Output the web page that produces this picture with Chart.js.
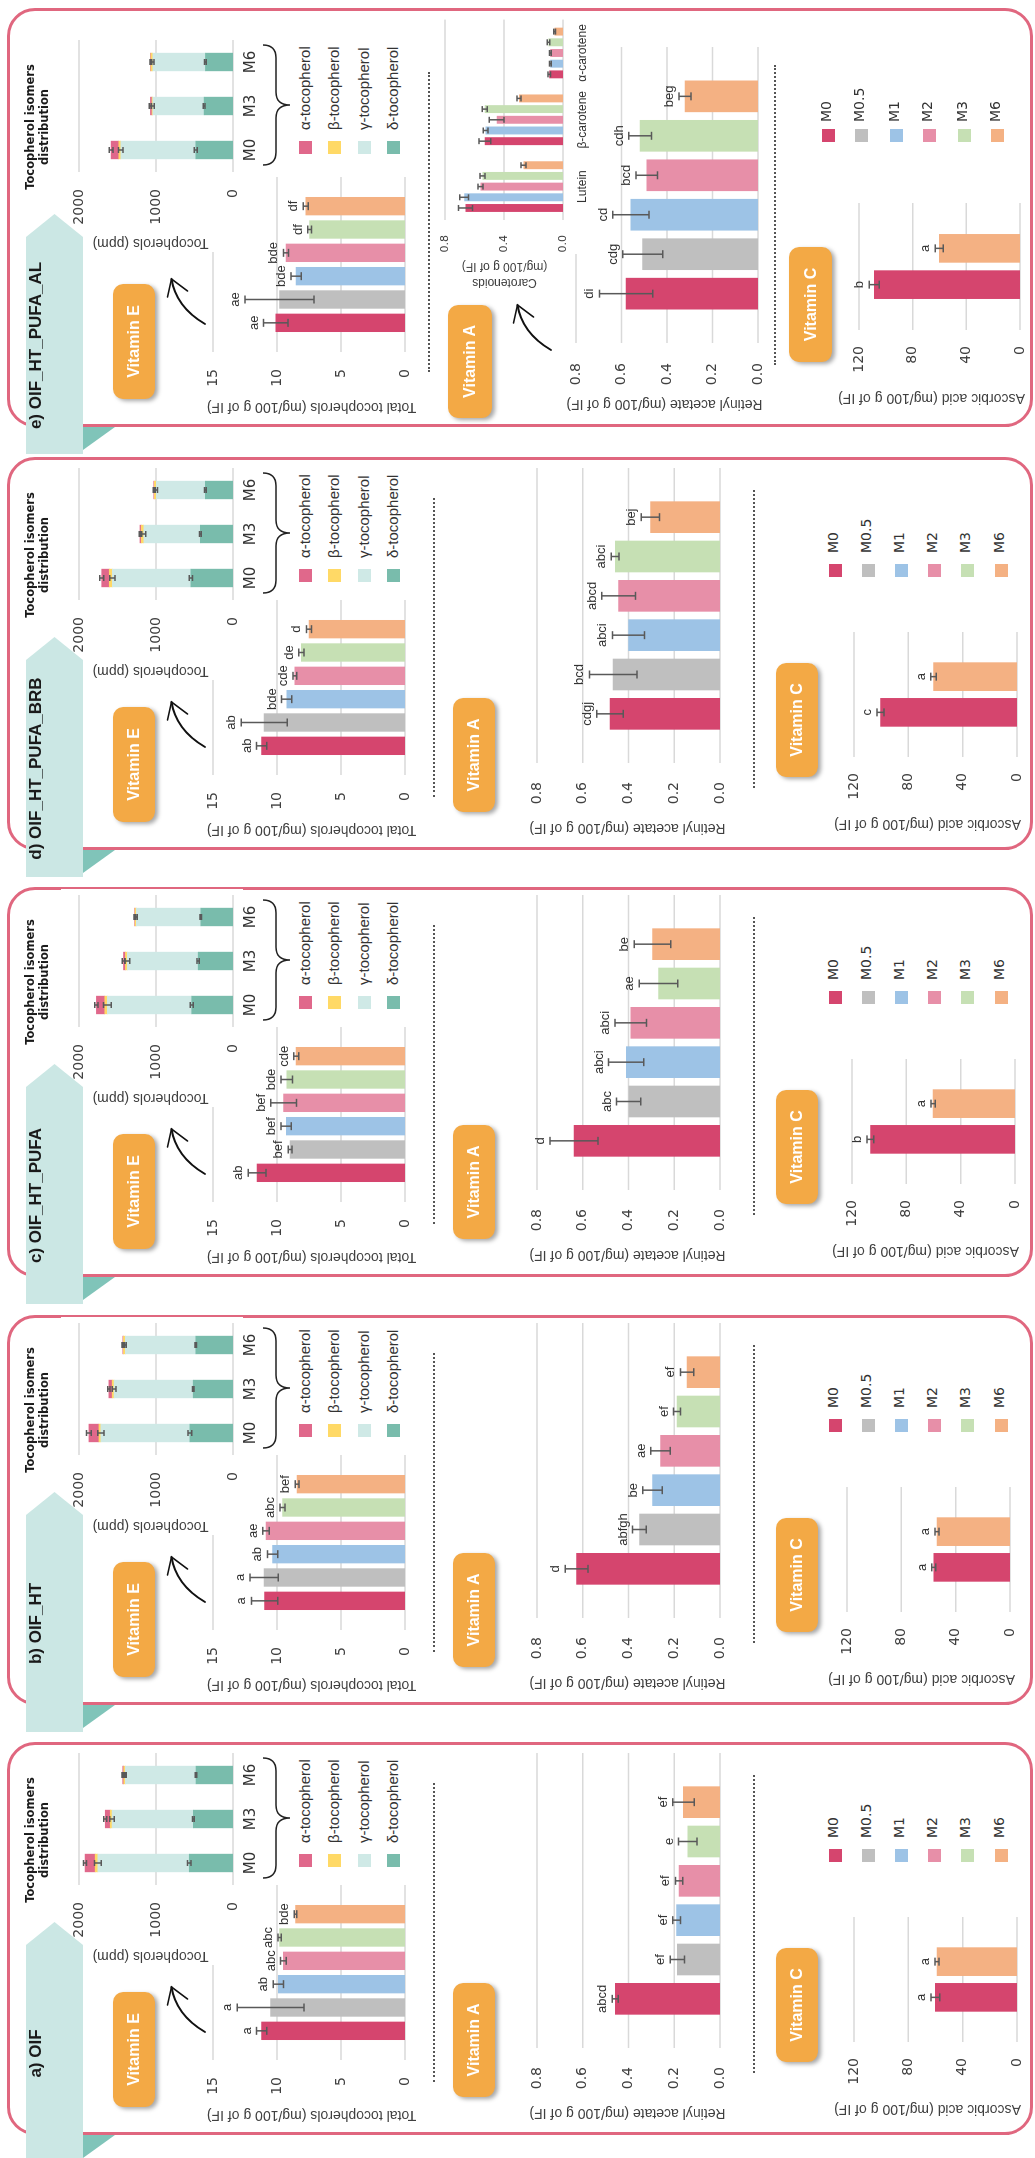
<!DOCTYPE html>
<html>
<head>
<meta charset="utf-8">
<title>Vitamins E, A and C in infant formula</title>
<script src="https://cdn.jsdelivr.net/npm/chart.js@4.4.1/dist/chart.umd.min.js"></script>
<style>
  html, body { margin: 0; padding: 0; background: #fff; }
  body { width: 1035px; height: 2158px; overflow: hidden; position: relative; }
  /* the figure is laid out landscape, then turned a quarter turn */
  #fig { position: absolute; left: 0; top: 0; width: 2158px; height: 1035px; background: #fff;
         transform-origin: 0 0; transform: translateY(2158px) rotate(-90deg);
         font-family: "Liberation Sans", Arial, sans-serif; color: #333; overflow: hidden; }
  #fig > * { position: absolute; }
</style>
</head>
<body>
<div id="fig"></div>
<script>
// ---- data (one row per panel a..e) ----
const categories = ["M0", "M0.5", "M1", "M2", "M3", "M6"];
const vitCCategories = ["M0", "M6"];
const isomerCategories = ["M0", "M3", "M6"];
const isomerNames = ["α-tocopherol", "β-tocopherol", "γ-tocopherol", "δ-tocopherol"];
const caroCategories = ["Lutein", "β-carotene", "α-carotene"];
const caroSeries = ["M0", "M1", "M2", "M3", "M6"];
const panelTitles = ["a) OIF", "b) OIF_HT", "c) OIF_HT_PUFA", "d) OIF_HT_PUFA_BRB", "e) OIF_HT_PUFA_AL"];

// Vitamin E - total tocopherols (mg/100 g of IF)
const vitE = [
  [11.2, 10.5, 9.9, 9.5, 9.8, 8.55],
  [10.97, 11.0, 10.35, 10.86, 9.57, 8.43],
  [11.55, 8.97, 9.28, 9.48, 9.23, 8.5],
  [11.2, 11.0, 9.24, 8.6, 8.1, 7.5],
  [10.1, 9.8, 8.5, 9.3, 7.45, 7.75]
];
const vitEErr = [
  [0.4, 2.6, 0.4, 0.22, 0.13, 0.1],
  [1.03, 1.1, 0.4, 0.26, 0.2, 0.15],
  [0.7, 0.15, 0.4, 1.0, 0.45, 0.2],
  [0.4, 1.8, 0.4, 0.15, 0.2, 0.2],
  [0.95, 2.7, 0.4, 0.2, 0.15, 0.2]
];
const vitELetters = [
  ["a", "a", "ab", "abc", "abc", "bde"],
  ["a", "a", "ab", "ae", "abc", "bef"],
  ["ab", "bef", "bef", "bef", "bde", "cde"],
  ["ab", "ab", "bde", "cde", "de", "d"],
  ["ae", "ae", "bde", "bde", "df", "df"]
];

// tocopherol isomers (ppm), columns M0, M3, M6
const isoDelta = [[568, 515, 480], [560, 517, 483], [536, 452, 418], [547, 424, 359], [483, 375, 358]];
const isoGamma = [[1187, 1057, 917], [1155, 1026, 914], [1096, 920, 837], [1020, 735, 637], [975, 667, 683]];
const isoBeta = [[35, 22, 22], [26, 26, 26], [33, 25, 17], [40, 33, 25], [25, 10, 25]];
const isoAlpha = [[131, 65, 13], [130, 43, 8], [109, 25, 5], [98, 16, 8], [100, 20, 5]];
const isoDeltaErr = [[22, 12, 10], [25, 10, 10], [20, 15, 10], [20, 12, 12], [20, 12, 12]];
const isoGammaErr = [[45, 30, 10], [40, 25, 12], [50, 30, 12], [35, 25, 15], [30, 20, 15]];
const isoAlphaErr = [[20, 20, 10], [30, 15, 10], [20, 15, 10], [25, 10, 8], [25, 15, 8]];

// Vitamin A - retinyl acetate (mg/100 g of IF)
const vitA = [
  [0.458, 0.186, 0.19, 0.179, 0.141, 0.16],
  [0.627, 0.352, 0.295, 0.26, 0.188, 0.144],
  [0.638, 0.399, 0.41, 0.39, 0.269, 0.295],
  [0.481, 0.467, 0.40, 0.443, 0.458, 0.304],
  [0.58, 0.507, 0.559, 0.489, 0.518, 0.321]
];
const vitAErr = [
  [0.013, 0.031, 0.017, 0.016, 0.04, 0.047],
  [0.05, 0.03, 0.043, 0.043, 0.015, 0.029],
  [0.105, 0.053, 0.077, 0.069, 0.084, 0.08],
  [0.058, 0.104, 0.07, 0.074, 0.017, 0.04],
  [0.117, 0.088, 0.08, 0.047, 0.05, 0.026]
];
const vitALetters = [
  ["abcd", "ef", "ef", "ef", "e", "ef"],
  ["d", "abfgh", "be", "ae", "ef", "ef"],
  ["d", "abc", "abci", "abci", "ae", "be"],
  ["cdgj", "bcd", "abci", "abcd", "abci", "bej"],
  ["di", "cdg", "cd", "bcd", "cdh", "beg"]
];

// carotenoids, panel e only (rows M0, M1, M2, M3, M6)
const caroValues = [
  [0.661, 0.53, 0.093],
  [0.67, 0.525, 0.086],
  [0.559, 0.45, 0.086],
  [0.545, 0.53, 0.098],
  [0.268, 0.298, 0.057]
];
const caroErr = [
  [0.047, 0.04, 0.008],
  [0.03, 0.016, 0.006],
  [0.017, 0.05, 0.006],
  [0.017, 0.017, 0.008],
  [0.017, 0.014, 0.006]
];

// Vitamin C - ascorbic acid (mg/100 g of IF), M0 and M6
const vitC = [[60.1, 58.9], [56.1, 53.7], [106.4, 60.3], [100.5, 61.5], [108.6, 60.2]];
const vitCErr = [[3.3, 1.5], [1.5, 1.5], [2.5, 1.5], [2.5, 2], [3.7, 3]];
const vitCLetters = [["a", "a"], ["a", "a"], ["b", "a"], ["c", "a"], ["b", "a"]];

// ---- styles & layout ----
const mColors = ["#d5456e", "#bfbfbf", "#9dc3e6", "#e78fa8", "#c6e0b4", "#f4b183"];
const isoColors = ["#e0688b", "#ffd966", "#cfe9e6", "#79bcac"]; // alpha, beta, gamma, delta
const caroColors = [mColors[0], mColors[2], mColors[3], mColors[4], mColors[5]];
const vitCColors = [mColors[0], mColors[5]];

const panelLeft = [23, 453, 881, 1308, 1731];
const panelWidth = [393, 390, 390, 393, 419];

const baseLayout = {
  eBox: [28, 113, 115, 42], eArrow: [103, 205],
  eArea: { l: 75, r: 250, t: 213, b: 405 }, eTitle: [18.5, 311],
  isoArea: { l: 250, r: 382, t: 79, b: 233 }, isoTitle: [177.5, 150], isoHead: [295, 23],
  brace: [257, 377, 263], isoLeg: [268, 292, [305, 334, 364, 393]], isoShift: 0,
  dot1: [53, 352, 434],
  aBox: [38, 453, 114, 42], aArrow: null,
  aArea: { l: 87, r: 382, t: 537, b: 720 }, aTickPad: 19, aTitle: [21, 627.5],
  dot2: [62, 360, 754],
  cBox: [73, 776, 114, 42],
  cArea: { l: 93, r: 218, t: 854, b: 1017 }, cTitle: [25, 927.5],
  leg: [273, 297, [835, 868, 901, 934, 967, 1001]]
};
const layouts = [
  baseLayout,
  Object.assign({}, baseLayout, { cArea: { l: 93, r: 218, t: 847, b: 1010 }, cTitle: [25, 921] }),
  Object.assign({}, baseLayout, { cArea: { l: 93, r: 218, t: 852, b: 1015 }, cTitle: [25, 925.5] }),
  baseLayout,
  Object.assign({}, baseLayout, {
    isoShift: 5,
    dot1: [55, 355, 428.5],
    aBox: [9, 448, 113, 44], aArrow: [77, 551],
    aArea: { l: 84, r: 380, t: 576, b: 758 }, aTickPad: 20, aTitle: [22, 664],
    caroArea: { l: 207, r: 414, t: 445, b: 563 }, caroTitle: [152, 504],
    dot2: [62, 362, 775],
    cBox: [65, 789, 115, 43],
    cArea: { l: 97, r: 224, t: 859, b: 1020 }, cTitle: [28, 931],
    leg: [285, 305, [828, 861, 896, 929, 964, 997]]
  })
];

const fig = document.getElementById("fig");
const SVGNS = "http://www.w3.org/2000/svg";

function el(css, html) {
  const e = document.createElement("div");
  e.style.cssText = "position:absolute;" + css;
  if (html != null) e.innerHTML = html;
  fig.appendChild(e);
  return e;
}

function svgEl(tag, attrs, parent) {
  const e = document.createElementNS(SVGNS, tag);
  for (const k in attrs) e.setAttribute(k, attrs[k]);
  parent.appendChild(e);
  return e;
}

// rotated axis title as plain text
function vTitle(cx, cy, html, size, lh, lines) {
  const W = 340, H = lh * (lines || 1);
  el(`left:${cx - W / 2}px;top:${cy - H / 2}px;width:${W}px;height:${H}px;line-height:${lh}px;` +
     `text-align:center;white-space:nowrap;transform:rotate(-90deg);font-size:${size}px;color:#404040;z-index:7`, html);
}

// value gridlines, optionally running past the bar area like in the figure
const gridPlugin = {
  id: "extGrid",
  beforeDatasetsDraw(chart, args, opts) {
    const ext = opts.ext || 0, ys = chart.scales.y, a = chart.chartArea, ctx = chart.ctx;
    ctx.save();
    ctx.strokeStyle = "#d9d9d9";
    ctx.lineWidth = 1.5;
    ctx.beginPath();
    ys.ticks.forEach(t => {
      const y = ys.getPixelForValue(t.value);
      ctx.moveTo(a.left - ext, y);
      ctx.lineTo(a.right + ext, y);
    });
    ctx.stroke();
    ctx.restore();
  }
};

// error bars + significance letters on top of each bar
const errPlugin = {
  id: "errBars",
  afterDatasetsDraw(chart) {
    const ctx = chart.ctx, ys = chart.scales.y;
    ctx.save();
    chart.data.datasets.forEach((ds, d) => {
      if (!ds.errs) return;
      const meta = chart.getDatasetMeta(d);
      meta.data.forEach((bar, i) => {
        const e = ds.errs[i] || 0;
        const dp = Math.abs(ys.getPixelForValue(0) - ys.getPixelForValue(e));
        const top = bar.y - dp;
        if (e > 0) {
          const c = ds.cap || 4;
          ctx.strokeStyle = "#595959";
          ctx.lineWidth = 1.5;
          ctx.beginPath();
          ctx.moveTo(bar.x, top); ctx.lineTo(bar.x, bar.y + dp);
          ctx.moveTo(bar.x - c, top); ctx.lineTo(bar.x + c, top);
          ctx.moveTo(bar.x - c, bar.y + dp); ctx.lineTo(bar.x + c, bar.y + dp);
          ctx.stroke();
        }
        if (ds.letters && ds.letters[i]) {
          ctx.fillStyle = "#333";
          ctx.font = "13px 'Liberation Sans'";
          ctx.textAlign = "center";
          ctx.textBaseline = "alphabetic";
          ctx.fillText(ds.letters[i], bar.x, top - 6);
        }
      });
    });
    ctx.restore();
  }
};

// white backdrop for the inset charts
const bgPlugin = {
  id: "whiteBg",
  beforeDraw(chart, args, opts) {
    const from = opts.from || 0, top = opts.top || 0, bottom = opts.bottom || 0;
    const ctx = chart.ctx;
    ctx.save();
    ctx.fillStyle = "#fff";
    ctx.fillRect(from, top, chart.width - from, chart.height - top - bottom);
    ctx.restore();
  }
};

function makeChart(x, y, w, h, z, config) {
  const cv = document.createElement("canvas");
  cv.width = Math.round(w); cv.height = Math.round(h);
  cv.style.cssText = `position:absolute;left:${x}px;top:${y}px;width:${Math.round(w)}px;height:${Math.round(h)}px;z-index:${z}`;
  fig.appendChild(cv);
  config.options = Object.assign({ responsive: false, animation: false, devicePixelRatio: 1, events: [] }, config.options);
  return new Chart(cv, config);
}

function valueAxis(o) {
  return {
    min: o.min, max: o.max, stacked: !!o.stacked,
    ticks: { stepSize: o.step, padding: o.pad, color: "#404040",
             font: { family: "DejaVu Sans", size: o.size || 14 },
             callback: v => Number(v).toFixed(o.dec || 0) },
    grid: { display: false, drawTicks: false },
    border: { display: false },
    afterFit(s) { s.width = o.w; }
  };
}

// vitamin bar chart; gridlines run 0.75 slot past the bars on both sides.
// Chart.js adds the tick padding to the axis' top/bottom padding, so the
// canvas padding is made large enough that it never squeezes the plot.
function vitBars(P, A, labels, means, errs, letters, colors, barW, yOpt) {
  const n = labels.length;
  const pitch = (A.r - A.l) / (n + 1.5);
  const ext = 0.75 * pitch;
  const tickPad = yOpt.pad + ext;
  const padV = Math.ceil(tickPad + 12), padR = ext + 2;
  const axisW = yOpt.w + ext;
  makeChart(P + A.l - yOpt.w, A.t - padV, axisW + n * pitch + padR, padV + A.b - A.t + padV, 2, {
    type: "bar",
    data: {
      labels,
      datasets: [{ data: means, backgroundColor: colors, barThickness: barW, errs, letters }]
    },
    options: {
      layout: { padding: { top: padV, bottom: padV, right: padR, left: 0 } },
      plugins: { legend: { display: false }, tooltip: { enabled: false }, extGrid: { ext } },
      scales: {
        x: { type: "category", offset: true, display: false },
        y: valueAxis(Object.assign({}, yOpt, { w: axisW, pad: tickPad }))
      }
    },
    plugins: [gridPlugin, errPlugin]
  });
}

function isoChart(P, A, p) {
  const axisW = 80, padT = 28, xH = 29, padR = 6;
  const series = [
    { data: isoDelta[p], errs: isoDeltaErr[p], backgroundColor: isoColors[3] },
    { data: isoGamma[p], errs: isoGammaErr[p], backgroundColor: isoColors[2] },
    { data: isoBeta[p], backgroundColor: isoColors[1] },
    { data: isoAlpha[p], errs: isoAlphaErr[p], backgroundColor: isoColors[0] }
  ];
  series.forEach(s => { s.barThickness = 17.7; s.cap = 3; });
  makeChart(P + A.l - axisW, A.t - padT, axisW + A.r - A.l + padR, padT + A.b - A.t + xH, 3, {
    type: "bar",
    data: { labels: isomerCategories, datasets: series },
    options: {
      layout: { padding: { top: padT, bottom: 0, right: padR, left: 0 } },
      plugins: { legend: { display: false }, tooltip: { enabled: false }, whiteBg: { from: 0, top: 10, bottom: 19 } },
      scales: {
        x: { stacked: true, grid: { display: false, drawTicks: false }, border: { display: false },
             ticks: { padding: 9, color: "#333", font: { family: "DejaVu Sans", size: 15 } },
             afterFit(s) { s.height = xH; } },
        y: valueAxis({ min: 0, max: 2000, step: 1000, pad: 17, w: axisW, stacked: true })
      }
    },
    plugins: [bgPlugin, gridPlugin, errPlugin]
  });
}

function caroChart(P, A) {
  const axisW = 72, padT = 24, xH = 30, padR = 1;
  makeChart(P + A.l - axisW, A.t - padT, axisW + A.r - A.l + padR, padT + A.b - A.t + xH, 3, {
    type: "bar",
    data: {
      labels: caroCategories,
      datasets: caroSeries.map((s, k) => ({ label: s, data: caroValues[k], errs: caroErr[k],
                                           backgroundColor: caroColors[k], cap: 3,
                                           categoryPercentage: 0.8, barPercentage: 0.74 }))
    },
    options: {
      layout: { padding: { top: padT, bottom: 0, right: padR, left: 0 } },
      plugins: { legend: { display: false }, tooltip: { enabled: false }, whiteBg: { from: 38, top: 10 } },
      scales: {
        x: { grid: { display: false, drawTicks: false }, border: { display: false },
             ticks: { padding: 12, color: "#333", font: { family: "Liberation Sans", size: 12 } },
             afterFit(s) { s.height = xH; } },
        y: valueAxis({ min: 0, max: 0.8, step: 0.4, dec: 1, pad: 15, w: axisW, size: 11 })
      }
    },
    plugins: [bgPlugin, gridPlugin, errPlugin]
  });
}

function vitBox(P, b, text) {
  el(`left:${P + b[0]}px;top:${b[1]}px;width:${b[2]}px;height:${b[3]}px;background:#f3a945;border-radius:10px;` +
     `box-shadow:-2px 3px 4px rgba(0,0,0,0.35);color:#fff;font:bold 16px 'Liberation Sans';` +
     `display:flex;align-items:center;justify-content:center;z-index:6`, text);
}

function swoosh(svg, x0, y0) {
  const tx = x0 + 45, ty = y0 - 33.5;
  svgEl("path", { d: `M${x0},${y0} Q${x0 + 17},${y0 - 29} ${tx},${ty}`, fill: "none", stroke: "#111",
                  "stroke-width": 1.8, "stroke-linecap": "round" }, svg);
  svgEl("path", { d: `M${tx - 18},${ty - 4} L${tx},${ty} L${tx - 12},${ty + 16}`, fill: "none", stroke: "#111",
                  "stroke-width": 1.6, "stroke-linecap": "round" }, svg);
}

function dotted(P, d) {
  el(`left:${P + d[0]}px;top:${d[2] - 1}px;width:${d[1] - d[0]}px;height:0;border-top:2px dotted #555;z-index:4`);
}

function buildPanel(p) {
  const P = panelLeft[p], W = panelWidth[p], L = layouts[p], s = L.isoShift;

  // frame, title tab and its fold
  el(`left:${P}px;top:7px;width:${W}px;height:1026px;border:3.5px solid #e0677f;border-radius:28px;box-sizing:border-box;z-index:0`);
  const tab = el(`left:${P - 27}px;top:26px;width:240px;height:57px;background:#cbe7e4;` +
                 `clip-path:polygon(0 0,217px 0,240px 28.5px,217px 57px,0 57px);z-index:8`);
  const tt = document.createElement("div");
  tt.style.cssText = "position:absolute;left:0;top:0;width:217px;height:57px;line-height:57px;text-align:center;" +
                     "font:bold 17px 'Liberation Sans';color:#1a1a1a;white-space:nowrap";
  tt.textContent = panelTitles[p];
  tab.appendChild(tt);
  el(`left:${P - 23}px;top:83px;width:23px;height:32px;background:#80c4b9;clip-path:polygon(0 0,23px 0,23px 32px);z-index:8`);

  const svg = document.createElementNS(SVGNS, "svg");
  svg.setAttribute("width", W); svg.setAttribute("height", 1035);
  svg.style.cssText = `position:absolute;left:${P}px;top:0;overflow:visible;z-index:6`;
  fig.appendChild(svg);

  // Vitamin E
  vitBox(P, L.eBox, "Vitamin E");
  swoosh(svg, L.eArrow[0], L.eArrow[1]);
  vitBars(P, L.eArea, categories, vitE[p], vitEErr[p], vitELetters[p], mColors, 17.7,
          { min: 0, max: 15, step: 5, pad: 17, w: 70 });
  vTitle(P + L.eTitle[0], L.eTitle[1], "Total tocopherols (mg/100 g of IF)", 14, 17);

  // tocopherol isomers inset
  const IA = { l: L.isoArea.l + s, r: L.isoArea.r + s, t: L.isoArea.t, b: L.isoArea.b };
  isoChart(P, IA, p);
  vTitle(P + L.isoTitle[0] + s, L.isoTitle[1], "Tocopherols (ppm)", 14, 17);
  el(`left:${P + L.isoHead[0] + s - 100}px;top:${L.isoHead[1]}px;width:200px;text-align:center;line-height:19px;` +
     `font:bold 11.5px 'DejaVu Sans';color:#1a1a1a;z-index:7`, "Tocopherol isomers<br>distribution");
  const b = L.brace, x1 = b[0] + s, x2 = b[1] + s, xm = (x1 + x2) / 2, y0 = b[2];
  svgEl("path", { d: `M${x1},${y0} Q${x1},${y0 + 13} ${x1 + 13},${y0 + 13} L${xm - 13},${y0 + 13} ` +
                     `Q${xm},${y0 + 13} ${xm},${y0 + 27} Q${xm},${y0 + 13} ${xm + 13},${y0 + 13} ` +
                     `L${x2 - 13},${y0 + 13} Q${x2},${y0 + 13} ${x2},${y0}`,
                  fill: "none", stroke: "#222", "stroke-width": 1.5 }, svg);
  isomerNames.forEach((n, k) => {
    const yc = L.isoLeg[2][k];
    el(`left:${P + L.isoLeg[0] + s}px;top:${yc - 6.5}px;width:13px;height:13px;background:${isoColors[k]};z-index:5`);
    el(`left:${P + L.isoLeg[1] + s}px;top:${yc - 10}px;height:20px;line-height:20px;white-space:nowrap;` +
       `font-size:15px;color:#333;z-index:5`, n);
  });

  dotted(P, L.dot1);

  // Vitamin A
  vitBox(P, L.aBox, "Vitamin A");
  if (L.aArrow) swoosh(svg, L.aArrow[0], L.aArrow[1]);
  vitBars(P, L.aArea, categories, vitA[p], vitAErr[p], vitALetters[p], mColors, 31,
          { min: 0, max: 0.8, step: 0.2, dec: 1, pad: L.aTickPad, w: 79 });
  vTitle(P + L.aTitle[0], L.aTitle[1], "Retinyl acetate (mg/100 g of IF)", 14, 17);
  if (L.caroArea) {
    caroChart(P, L.caroArea);
    vTitle(P + L.caroTitle[0], L.caroTitle[1], "Carotenoids<br>(mg/100 g of IF)", 12, 15.5, 2);
  }

  dotted(P, L.dot2);

  // Vitamin C
  vitBox(P, L.cBox, "Vitamin C");
  vitBars(P, L.cArea, vitCCategories, vitC[p], vitCErr[p], vitCLetters[p], vitCColors, 28,
          { min: 0, max: 120, step: 40, pad: 16, w: 83 });
  vTitle(P + L.cTitle[0], L.cTitle[1], "Ascorbic acid (mg/100 g of IF)", 14, 17);
  categories.forEach((c, k) => {
    const yc = L.leg[2][k];
    el(`left:${P + L.leg[0]}px;top:${yc - 6.5}px;width:13px;height:13px;background:${mColors[k]};z-index:5`);
    el(`left:${P + L.leg[1]}px;top:${yc - 10}px;height:20px;line-height:20px;white-space:nowrap;` +
       `font:14px 'DejaVu Sans';color:#333;z-index:5`, c);
  });
}

for (let p = 0; p < 5; p++) buildPanel(p);
</script>
</body>
</html>
